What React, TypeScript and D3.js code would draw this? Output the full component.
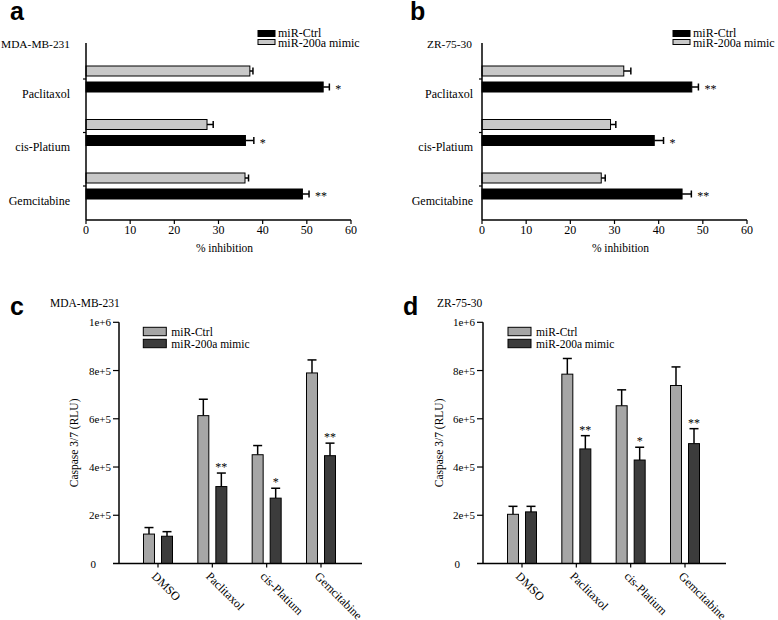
import React from 'react';
import * as d3 from 'd3';

const serif = "'Liberation Serif', 'Times New Roman', 'DejaVu Serif', serif";
const sans = "'Liberation Sans', Arial, sans-serif";

// panels a / b : % inhibition
const inhibDrugs = ['Paclitaxol', 'cis-Platium', 'Gemcitabine'];
const inhibTicks = [0, 10, 20, 30, 40, 50, 60];

const mdaInhibCtrl = [53.7, 36.1, 49.0];
const mdaInhibCtrlErr = [1.4, 1.9, 1.5];
const mdaInhibMimic = [37.1, 27.4, 36.0];
const mdaInhibMimicErr = [0.7, 1.4, 0.8];
const mdaInhibStars = ['*', '*', '**'];

const zrInhibCtrl = [47.5, 39.0, 45.3];
const zrInhibCtrlErr = [1.5, 2.1, 2.1];
const zrInhibMimic = [32.1, 29.1, 27.0];
const zrInhibMimicErr = [1.6, 1.2, 0.9];
const zrInhibStars = ['**', '*', '**'];

// panels c / d : caspase 3/7
const caspDrugs = ['DMSO', 'Paclitaxol', 'cis-Platium', 'Gemcitabine'];
const caspTicks = [0, 2e5, 4e5, 6e5, 8e5, 1e6];
const caspTickLabels = ['0', '2e+5', '4e+5', '6e+5', '8e+5', '1e+6'];

const mdaCaspCtrl = [122000, 613000, 451000, 790000];
const mdaCaspCtrlErr = [27000, 68000, 38000, 54000];
const mdaCaspMimic = [113000, 319000, 271000, 447000];
const mdaCaspMimicErr = [19000, 56000, 41000, 52000];
const mdaCaspStars = ['', '**', '*', '**'];

const zrCaspCtrl = [204000, 785000, 654000, 738000];
const zrCaspCtrlErr = [33000, 65000, 66000, 77000];
const zrCaspMimic = [214000, 475000, 429000, 497000];
const zrCaspMimicErr = [23000, 55000, 53000, 62000];
const zrCaspStars = ['', '**', '*', '**'];

const seriesNames = ['miR-Ctrl', 'miR-200a mimic'];

const txt = (size: number) => ({ fontFamily: serif, fontSize: size, fill: '#000' });

function HBarPanel({ letter, letterX, title, titleX, axisX, labelX, legendX, ctrl, ctrlErr, mimic, mimicErr, stars }) {
  const top = 43;
  const bottom = 220;
  const x = d3.scaleLinear().domain([0, 60]).range([axisX, axisX + 265]);
  const y = d3.scalePoint().domain(inhibDrugs).range([79, 186]);
  const barH = 10;
  const cap = 3.5;

  return (
    <g>
      <text x={letterX} y={20} style={{ fontFamily: sans, fontWeight: 'bold', fontSize: 25 }}>{letter}</text>
      <text x={titleX} y={48} textAnchor="end" style={txt(11.4)}>{title}</text>

      {/* legend */}
      <rect x={legendX} y={30.5} width={17} height={6} fill="#000" stroke="#000" />
      <rect x={legendX} y={39.5} width={17} height={5} fill="#c8c8c8" stroke="#000" />
      <text x={legendX + 20} y={36.5} style={txt(12)}>{seriesNames[0]}</text>
      <text x={legendX + 20} y={46.5} style={txt(12)}>{seriesNames[1]}</text>

      {inhibDrugs.map((d, i) => {
        const cy = y(d);
        const gy = cy - 13;
        const by = cy + 3;
        const ge = x(mimic[i] + mimicErr[i]);
        const be = x(ctrl[i] + ctrlErr[i]);
        return (
          <g key={d}>
            <rect x={x(0)} y={gy} width={x(mimic[i]) - x(0)} height={barH} fill="#c8c8c8" stroke="#000" strokeWidth={1} />
            <line x1={x(mimic[i])} x2={ge} y1={gy + barH / 2} y2={gy + barH / 2} stroke="#000" strokeWidth={1.5} />
            <line x1={ge} x2={ge} y1={gy + barH / 2 - cap} y2={gy + barH / 2 + cap} stroke="#000" strokeWidth={1.5} />
            <rect x={x(0)} y={by} width={x(ctrl[i]) - x(0)} height={barH} fill="#000" stroke="#000" strokeWidth={1} />
            <line x1={x(ctrl[i])} x2={be} y1={by + barH / 2} y2={by + barH / 2} stroke="#000" strokeWidth={1.5} />
            <line x1={be} x2={be} y1={by + barH / 2 - cap} y2={by + barH / 2 + cap} stroke="#000" strokeWidth={1.5} />
            <text x={be + 6} y={by + barH / 2 + 6} style={txt(12)}>{stars[i]}</text>
            <line x1={axisX - 3} x2={axisX} y1={cy} y2={cy} stroke="#000" strokeWidth={1.2} />
            <text x={labelX} y={cy + 18.5} textAnchor="end" style={txt(12)}>{d}</text>
          </g>
        );
      })}

      {/* axes */}
      <line x1={axisX} x2={axisX} y1={top} y2={bottom} stroke="#000" strokeWidth={1.5} />
      <line x1={axisX} x2={axisX + 265} y1={bottom} y2={bottom} stroke="#000" strokeWidth={1.5} />
      {inhibTicks.map(t => (
        <g key={t}>
          <line x1={x(t)} x2={x(t)} y1={bottom} y2={bottom + 4} stroke="#000" strokeWidth={1.2} />
          <text x={x(t)} y={bottom + 14} textAnchor="middle" style={txt(12)}>{t}</text>
        </g>
      ))}
      <text x={axisX + 132.5 + 6} y={bottom + 32} textAnchor="middle" style={txt(11.5)}>% inhibition</text>
    </g>
  );
}

function VBarPanel({ letter, letterX, title, titleX, axisX, ylabelX, legendX, ctrl, ctrlErr, mimic, mimicErr, stars }) {
  const y = d3.scaleLinear().domain([0, 1e6]).range([563.5, 322.3]);
  const x = d3.scalePoint().domain(caspDrugs).range([axisX + 39, axisX + 39 + 163]);
  const inner = d3.scaleBand().domain(['ctrl', 'mimic']).range([-14.5, 14.5]).paddingInner(0.39);
  const bw = inner.bandwidth();
  const base = y(0);
  const capW = 4.5;
  const ctrlFill = '#a6a6a6';
  const mimicFill = '#3c3c3c';

  const bar = (cx, v, e, fill) => {
    const t = y(v + e);
    const mid = cx + bw / 2;
    return (
      <g>
        <line x1={mid} x2={mid} y1={y(v)} y2={t} stroke="#000" strokeWidth={1.5} />
        <line x1={mid - capW} x2={mid + capW} y1={t} y2={t} stroke="#000" strokeWidth={1.5} />
        <rect x={cx} y={y(v)} width={bw} height={base - y(v)} fill={fill} stroke="#000" strokeWidth={1} />
      </g>
    );
  };

  return (
    <g>
      <text x={letterX} y={315} style={{ fontFamily: sans, fontWeight: 'bold', fontSize: 25 }}>{letter}</text>
      <text x={titleX} y={307} style={txt(11.5)}>{title}</text>

      {/* legend */}
      <rect x={legendX} y={327.3} width={23} height={8.4} fill={ctrlFill} stroke="#000" />
      <rect x={legendX} y={339.3} width={23} height={8.4} fill={mimicFill} stroke="#000" />
      <text x={legendX + 28} y={335.5} style={txt(11.5)}>{seriesNames[0]}</text>
      <text x={legendX + 28} y={347.5} style={txt(11.5)}>{seriesNames[1]}</text>

      {caspDrugs.map((d, i) => {
        const cx = x(d);
        const mx = cx + inner('mimic');
        return (
          <g key={d}>
            {bar(cx + inner('ctrl'), ctrl[i], ctrlErr[i], ctrlFill)}
            {bar(mx, mimic[i], mimicErr[i], mimicFill)}
            <text x={mx + bw / 2} y={y(mimic[i] + mimicErr[i]) - 2} textAnchor="middle" style={txt(12)}>{stars[i]}</text>
            <line x1={cx} x2={cx} y1={base} y2={base + 4} stroke="#000" strokeWidth={1.2} />
            <text transform={`translate(${cx - 7},${base + 13.5}) rotate(45)`} style={txt(12)}>{d}</text>
          </g>
        );
      })}

      {/* axes */}
      <line x1={axisX} x2={axisX} y1={y(1e6)} y2={base} stroke="#000" strokeWidth={1.5} />
      <line x1={axisX - 6} x2={axisX + 243} y1={base} y2={base} stroke="#000" strokeWidth={1.5} />
      {caspTicks.map((t, i) => (
        <g key={t}>
          {t > 0 && <line x1={axisX - 6} x2={axisX} y1={y(t)} y2={y(t)} stroke="#000" strokeWidth={1.2} />}
          <text x={t > 0 ? axisX - 8 : axisX - 23} y={y(t) + 4} textAnchor="end" style={txt(11)}>{caspTickLabels[i]}</text>
        </g>
      ))}
      <text transform={`translate(${ylabelX},${(y(0) + y(1e6)) / 2}) rotate(-90)`} textAnchor="middle" style={txt(11.5)}>Caspase 3/7 (RLU)</text>
    </g>
  );
}

export default function App() {
  return (
    <div style={{ position: 'absolute', left: 0, top: 0 }}>
      <svg width={778} height={620} style={{ display: 'block', background: '#fff' }}>
        <HBarPanel letter="a" letterX={10} title="MDA-MB-231" titleX={70} axisX={86} labelX={70} legendX={258}
          ctrl={mdaInhibCtrl} ctrlErr={mdaInhibCtrlErr} mimic={mdaInhibMimic} mimicErr={mdaInhibMimicErr} stars={mdaInhibStars} />
        <HBarPanel letter="b" letterX={410} title="ZR-75-30" titleX={472} axisX={482} labelX={473} legendX={673}
          ctrl={zrInhibCtrl} ctrlErr={zrInhibCtrlErr} mimic={zrInhibMimic} mimicErr={zrInhibMimicErr} stars={zrInhibStars} />
        <VBarPanel letter="c" letterX={10} title="MDA-MB-231" titleX={50} axisX={119} ylabelX={78} legendX={143.3}
          ctrl={mdaCaspCtrl} ctrlErr={mdaCaspCtrlErr} mimic={mdaCaspMimic} mimicErr={mdaCaspMimicErr} stars={mdaCaspStars} />
        <VBarPanel letter="d" letterX={403} title="ZR-75-30" titleX={437} axisX={483} ylabelX={443} legendX={508}
          ctrl={zrCaspCtrl} ctrlErr={zrCaspCtrlErr} mimic={zrCaspMimic} mimicErr={zrCaspMimicErr} stars={zrCaspStars} />
      </svg>
    </div>
  );
}
